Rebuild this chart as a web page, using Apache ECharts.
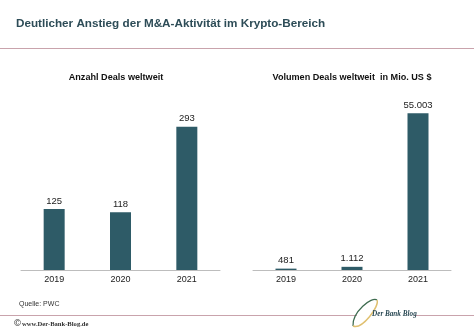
<!DOCTYPE html>
<html>
<head>
<meta charset="utf-8">
<script src="https://cdn.jsdelivr.net/npm/echarts@6/dist/echarts.min.js"></script>
<style>html,body{margin:0;padding:0;background:#fff}#c{width:474px;height:330px}</style>
</head>
<body>
<div id="c"></div>
<script>
var years = ['2019', '2020', '2021'];
var dealCount = [125, 118, 293];
var dealVolume = [481, 1112, 55003];

var titleText = 'Deutlicher Anstieg der M&A-Aktivität im Krypto-Bereich';
var leftSubtitle = 'Anzahl Deals weltweit';
var rightSubtitle = 'Volumen Deals weltweit  in Mio. US $';
var sourceText = 'Quelle: PWC';
var siteText = 'www.Der-Bank-Blog.de';
var logoText = 'Der Bank Blog';

function deFmt(v) {
  return String(v).replace(/\B(?=(\d{3})+(?!\d))/g, '.');
}

var barColor = '#2e5b67';
var font = 'Liberation Sans, Arial, sans-serif';
var chart = echarts.init(document.getElementById('c'), null, {renderer: 'canvas'});

function xAxis(idx) {
  return {
    type: 'category', gridIndex: idx, data: years,
    axisLine: {lineStyle: {color: '#bdbdbd', width: 1}},
    axisTick: {show: false},
    axisLabel: {color: '#222', fontSize: 9, fontFamily: font, margin: 5}
  };
}
function yAxis(idx, max) {
  return {
    type: 'value', gridIndex: idx, min: 0, max: max,
    show: false, splitLine: {show: false}
  };
}
function series(idx, data) {
  return {
    type: 'bar', xAxisIndex: idx, yAxisIndex: idx, data: data, barWidth: 21,
    itemStyle: {color: barColor},
    label: {show: true, position: 'top', distance: 3, color: '#222', fontSize: 9.5, fontFamily: font,
      formatter: function (p) { return deFmt(p.value); }}
  };
}

chart.setOption({
  animation: false,
  grid: [
    {left: 21, width: 199, top: 123.3, height: 146.7},
    {left: 253, width: 198, top: 99, height: 171}
  ],
  xAxis: [xAxis(0), xAxis(1)],
  yAxis: [yAxis(0, 300), yAxis(1, 60000)],
  series: [series(0, dealCount), series(1, dealVolume)],
  graphic: [
    {type: 'text', x: 16, y: 24, style: {text: titleText, fill: '#2d4c57', font: 'bold 11.7px ' + font, textVerticalAlign: 'middle'}},
    {type: 'line', shape: {x1: 0, y1: 48.5, x2: 474, y2: 48.5}, style: {stroke: '#c9a3ac', lineWidth: 1}},
    {type: 'text', x: 116, y: 77, style: {text: leftSubtitle, fill: '#111', font: 'bold 9.1px ' + font, textAlign: 'center', textVerticalAlign: 'middle'}},
    {type: 'text', x: 352, y: 77, style: {text: rightSubtitle, fill: '#111', font: 'bold 9.1px ' + font, textAlign: 'center', textVerticalAlign: 'middle'}},
    {type: 'text', x: 19, y: 304, style: {text: sourceText, fill: '#333', font: '7px ' + font, textVerticalAlign: 'middle'}},
    {type: 'line', shape: {x1: 0, y1: 315.5, x2: 357, y2: 315.5}, style: {stroke: '#c9a3ac', lineWidth: 1}},
    {type: 'line', shape: {x1: 414, y1: 315.5, x2: 474, y2: 315.5}, style: {stroke: '#c9a3ac', lineWidth: 1}},
    {type: 'text', x: 13, y: 324, style: {text: '©', fill: '#333', font: '9px DejaVu Serif, serif', textVerticalAlign: 'middle'}},
    {type: 'text', x: 22, y: 324, style: {text: siteText, fill: '#333', font: 'bold 6.6px Liberation Serif, serif', textVerticalAlign: 'middle'}},
    {type: 'bezierCurve', shape: {x1: 353, y1: 326, x2: 377, y2: 300, cpx1: 352, cpy1: 312, cpx2: 372, cpy2: 296}, style: {stroke: '#3d6b4f', lineWidth: 1.2, fill: null}},
    {type: 'bezierCurve', shape: {x1: 353, y1: 326, x2: 377, y2: 300, cpx1: 362, cpy1: 330, cpx2: 380, cpy2: 306}, style: {stroke: '#e0c070', lineWidth: 1.5, fill: null}},
    {type: 'text', x: 372, y: 314, style: {text: logoText, fill: '#2b4a55', font: 'italic bold 7.2px Liberation Serif, serif', textVerticalAlign: 'middle'}}
  ]
});
</script>
</body>
</html>
